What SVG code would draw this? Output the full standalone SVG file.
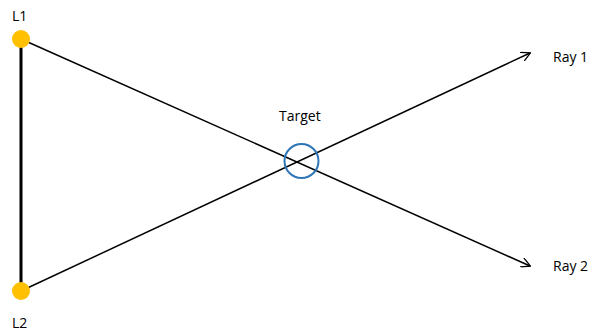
<svg xmlns="http://www.w3.org/2000/svg" width="598" height="331" viewBox="0 0 598 331">
<style>
text{font-family:"Open Sans","Liberation Sans",sans-serif;font-size:14px;fill:#000}
.ray{stroke:#000;stroke-width:1.5;fill:none}
.pt{fill:#FFC000}
</style>
<defs>
<marker id="arr" viewBox="0 0 10 10" refX="9" refY="5" markerWidth="10" markerHeight="10" markerUnits="userSpaceOnUse" orient="auto">
<path d="M0,0 L9.5,5 L0,10" fill="none" stroke="#000" stroke-width="1.3"/>
</marker>
</defs>
<rect width="598" height="331" fill="#fff"/>
<g id="connectors">
<line x1="21" y1="39" x2="21" y2="291" stroke="#000" stroke-width="3"/>
<line class="ray" x1="21" y1="39" x2="530" y2="266" marker-end="url(#arr)"/>
<line class="ray" x1="21" y1="291" x2="530" y2="53" marker-end="url(#arr)"/>
</g>
<g id="L1"><circle class="pt" cx="21" cy="39" r="9"/><text x="12" y="21">L1</text></g>
<g id="L2"><circle class="pt" cx="21" cy="291" r="9"/><text x="12" y="328">L2</text></g>
<g id="target"><circle cx="301.5" cy="161" r="17" fill="none" stroke="#2E75B6" stroke-width="2"/><text x="279" y="121">Target</text></g>
<g id="ray1"><text x="553" y="62">Ray 1</text></g>
<g id="ray2"><text x="553" y="271">Ray 2</text></g>
</svg>
